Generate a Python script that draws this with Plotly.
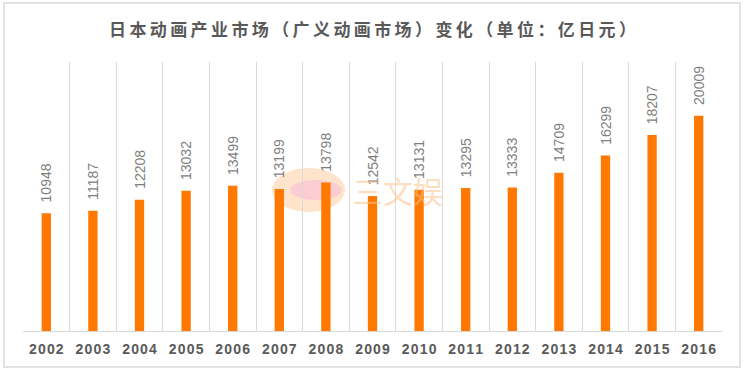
import plotly.graph_objects as go

years = ["2002", "2003", "2004", "2005", "2006", "2007", "2008", "2009",
         "2010", "2011", "2012", "2013", "2014", "2015", "2016"]
values = [10948, 11187, 12208, 13032, 13499, 13199, 13798, 12542,
          13131, 13295, 13333, 14709, 16299, 18207, 20009]
title_text = "日本动画产业市场（广义动画市场）变化（单位：亿日元）"

W, H = 745, 372
L, R, T, B = 23, 23, 62, 41
pw, ph = W - L - R, H - T - B

THIN = "\u2009"
HAIR = "\u200a"
spaced_title = THIN.join(title_text)
tick_text = [HAIR.join(y) for y in years]

fig = go.Figure(go.Bar(
    x=years, y=values,
    marker=dict(color="#FF7800", line=dict(width=0)),
    texttemplate="\u00a0\u00a0%{y:d}",
    textposition="outside", textangle=-90,
    constraintext="none",
    textfont=dict(family="Liberation Sans, Arial", size=14, color="#7F7F7F"),
    cliponaxis=False,
    hoverinfo="skip",
))

fig.update_layout(
    width=W, height=H,
    margin=dict(l=L, r=R, t=T, b=B),
    paper_bgcolor="white", plot_bgcolor="white",
    bargap=0.8,
    showlegend=False,
    title=dict(text=spaced_title, x=0.5, xanchor="center", y=1 - 30 / H,
               yanchor="middle",
               font=dict(family="Noto Sans CJK SC", size=17, color="#595959",
                         weight="bold")),
    xaxis=dict(type="category", tickson="boundaries", showgrid=True,
               gridcolor="#D9D9D9", gridwidth=1, showline=True,
               linecolor="#D9D9D9", ticks="",
               tickmode="array", tickvals=years, ticktext=tick_text,
               tickfont=dict(family="Liberation Sans, Arial", size=14,
                             color="#595959", weight="bold"),
               ticklabelstandoff=5),
    yaxis=dict(range=[0, 25000], visible=False, showgrid=False),
)

# light frame around the whole picture
fig.add_shape(type="rect", xref="paper", yref="paper",
              x0=(4 - L) / pw, x1=(740 - L) / pw,
              y0=(H - 367 - B) / ph, y1=(H - 3 - B) / ph,
              line=dict(color="#D9D9D9", width=1.5), fillcolor="rgba(0,0,0,0)",
              layer="below")

# watermark logo + text
fig.add_shape(type="circle", xref="paper", yref="paper",
              x0=(272 - L) / pw, x1=(345 - L) / pw,
              y0=(H - 212 - B) / ph, y1=(H - 168 - B) / ph,
              line=dict(width=0), fillcolor="rgba(252,205,160,0.55)",
              layer="below")
fig.add_shape(type="circle", xref="paper", yref="paper",
              x0=(290 - L) / pw, x1=(342 - L) / pw,
              y0=(H - 200 - B) / ph, y1=(H - 180 - B) / ph,
              line=dict(width=0), fillcolor="rgba(250,190,215,0.6)",
              layer="below")
fig.add_annotation(text="三文娱", xref="paper", yref="paper",
                   x=(398 - L) / pw, y=(H - 190 - B) / ph, showarrow=False,
                   font=dict(family="Noto Sans CJK SC", size=30,
                             color="rgba(250,195,140,0.55)"))

fig.write_html("out.html", config={"displayModeBar": False},
               post_script="document.body.style.margin='0px';")
